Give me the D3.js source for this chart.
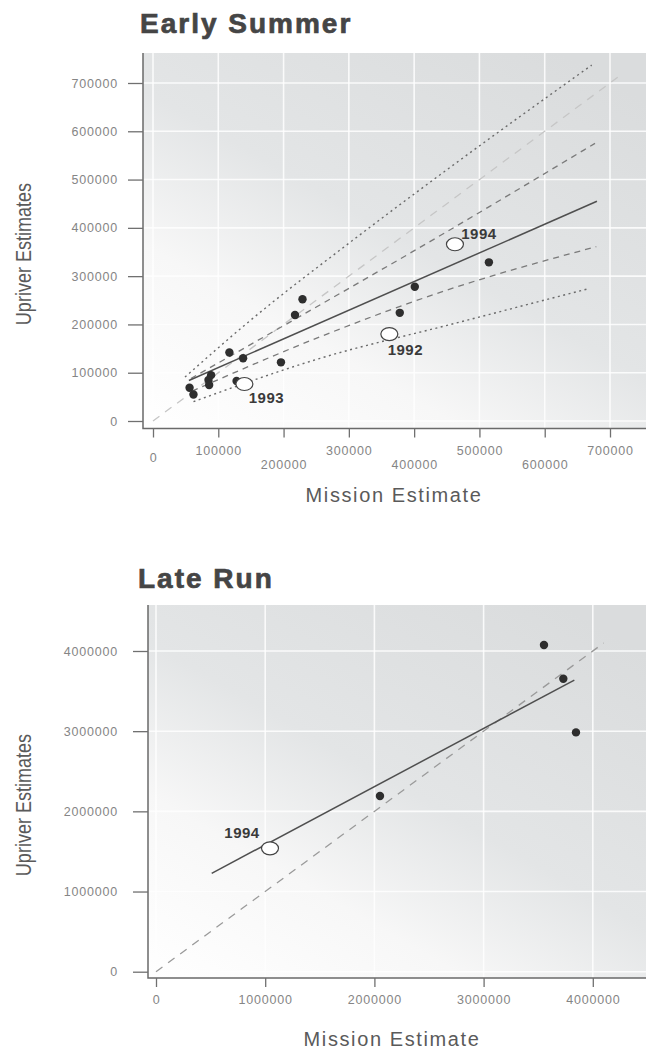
<!DOCTYPE html>
<html>
<head>
<meta charset="utf-8">
<script src="https://cdn.jsdelivr.net/npm/d3@7"></script>
<style>
  body { margin: 0; background: #fff; }
  svg { display: block; }
  .tick text { font-family: "Liberation Sans", Arial, sans-serif; font-size: 12.5px; fill: #858585; letter-spacing: 0.8px; }
  .tick line { stroke: #707070; stroke-width: 1.3; }
  .title { font-family: "Liberation Sans", Arial, sans-serif; font-weight: bold; font-size: 28px; fill: #454545; stroke: #454545; stroke-width: 0.7; letter-spacing: 2px; }
  .ytitle { font-family: "Liberation Sans", Arial, sans-serif; font-size: 22px; fill: #5a5a5a; }
  .xtitle { font-family: "Liberation Sans", Arial, sans-serif; font-size: 20px; fill: #5a5a5a; letter-spacing: 1.6px; }
  .yearlab { font-family: "Liberation Sans", Arial, sans-serif; font-weight: bold; font-size: 15px; fill: #3a3a3a; letter-spacing: 0.5px; }
</style>
</head>
<body>
<svg id="chart"></svg>
<script>
// Early Summer run
const earlyXTicks = [0, 100000, 200000, 300000, 400000, 500000, 600000, 700000];
const earlyYTicks = [0, 100000, 200000, 300000, 400000, 500000, 600000, 700000];
const earlyMission = [229000, 217500, 117000, 138000, 196000, 89000, 85000, 86000, 56000, 62000, 128000, 401000, 378000, 514500];
const earlyUpriver = [252000, 219500, 142000, 130000, 121500, 95000, 85000, 74500, 69000, 55000, 83000, 278000, 224000, 328600];
const earlyYears = ["1992", "1993", "1994"];
const earlyYearMission = [362000, 140000, 462500];
const earlyYearUpriver = [180000, 76600, 366000];
const earlyFitX = [55000, 680000];
const earlyFitY = [84000, 455000];
const earlyCiUpX = [58000, 184000, 450000, 677000];
const earlyCiUpY = [88000, 185000, 392000, 575000];
const earlyCiLoX = [60000, 256000, 450000, 679000];
const earlyCiLoY = [62000, 174500, 271000, 361000];
const earlyPiUpX = [49000, 143500, 306700, 449800, 672000];
const earlyPiUpY = [91000, 202000, 375000, 520000, 737000];
const earlyPiLoX = [62000, 256000, 460000, 669000];
const earlyPiLoY = [40000, 129800, 201400, 274700];
const earlyOneToOne = [0, 715000];

// Late run
const lateXTicks = [0, 1000000, 2000000, 3000000, 4000000];
const lateYTicks = [0, 1000000, 2000000, 3000000, 4000000];
const lateMission = [3553000, 3730000, 3846000, 2051000];
const lateUpriver = [4074000, 3653000, 2985000, 2191000];
const lateYears = ["1994"];
const lateYearMission = [1044000];
const lateYearUpriver = [1539000];
const lateFitX = [510000, 3831000];
const lateFitY = [1227000, 3637000];
const lateOneToOne = [0, 4100000];

const width = 646;
const height = 1051;

const svg = d3.select("#chart")
    .attr("width", width)
    .attr("height", height);

const defs = svg.append("defs");
const grad = defs.append("linearGradient")
    .attr("id", "bg")
    .attr("x1", "0").attr("y1", "1")
    .attr("x2", "0.8").attr("y2", "0");
grad.append("stop").attr("offset", "0").attr("stop-color", "#ffffff");
grad.append("stop").attr("offset", "0.3").attr("stop-color", "#f7f7f7");
grad.append("stop").attr("offset", "0.55").attr("stop-color", "#e3e5e6");
grad.append("stop").attr("offset", "1").attr("stop-color", "#dadcdd");

const zip = (xs, ys) => xs.map((x, i) => [x, ys[i]]);

function drawPanel(cfg) {
    const g = svg.append("g");
    const x = cfg.x, y = cfg.y;

    // panel background
    g.append("rect")
        .attr("x", cfg.left).attr("y", cfg.top)
        .attr("width", width + 20 - cfg.left)
        .attr("height", cfg.bottom - cfg.top)
        .attr("fill", "url(#bg)");

    // white grid
    g.selectAll(".vgrid").data(cfg.xTicks).join("line")
        .attr("x1", d => x(d)).attr("x2", d => x(d))
        .attr("y1", cfg.top).attr("y2", cfg.bottom)
        .attr("stroke", "#fff").attr("stroke-width", 1.6).attr("opacity", 0.85);
    g.selectAll(".hgrid").data(cfg.yTicks).join("line")
        .attr("x1", cfg.left).attr("x2", width + 20)
        .attr("y1", d => y(d)).attr("y2", d => y(d))
        .attr("stroke", "#fff").attr("stroke-width", 1.6).attr("opacity", 0.85);

    // frame (left and bottom)
    g.append("path")
        .attr("d", `M${cfg.left},${cfg.top}V${cfg.bottom}H${width + 20}`)
        .attr("fill", "none").attr("stroke", "#6a6a6a").attr("stroke-width", 1.5);

    // axes
    const yAxis = g.append("g")
        .attr("transform", `translate(${cfg.left},0)`)
        .call(d3.axisLeft(y).tickValues(cfg.yTicks).tickSize(15).tickPadding(cfg.yPad).tickFormat(d3.format("d")));
    yAxis.select(".domain").remove();

    const xAxis = g.append("g")
        .attr("transform", `translate(0,${cfg.bottom})`)
        .call(d3.axisBottom(x).tickValues(cfg.xTicks).tickSize(9).tickFormat(d3.format("d")));
    xAxis.select(".domain").remove();
    xAxis.selectAll(".tick text")
        .attr("dy", "0.35em")
        .attr("y", (d, i) => cfg.xLabelY(i));

    // titles
    g.append("text").attr("class", "title")
        .attr("x", cfg.titleX).attr("y", cfg.titleY).text(cfg.title);
    g.append("text").attr("class", "ytitle")
        .attr("transform", `translate(31,${cfg.yTitleY}) rotate(-90) scale(0.82,1)`)
        .attr("text-anchor", "middle").text("Upriver Estimates");
    g.append("text").attr("class", "xtitle")
        .attr("x", cfg.xTitleX).attr("y", cfg.xTitleY)
        .attr("text-anchor", "middle").text("Mission Estimate");

    const line = d3.line().x(d => x(d[0])).y(d => y(d[1]));
    const curve = d3.line().x(d => x(d[0])).y(d => y(d[1])).curve(d3.curveMonotoneX);

    // 1:1 line
    g.append("path")
        .attr("d", line(zip(cfg.oneToOne, cfg.oneToOne)))
        .attr("fill", "none").attr("stroke", cfg.oneColor).attr("stroke-width", 1.3)
        .attr("stroke-dasharray", "8,7");

    (cfg.bands || []).forEach(b => {
        g.append("path")
            .attr("d", curve(zip(b.xs, b.ys)))
            .attr("fill", "none").attr("stroke", b.color).attr("stroke-width", b.w)
            .attr("stroke-dasharray", b.dash);
    });

    // fitted line
    g.append("path")
        .attr("d", line(zip(cfg.fitX, cfg.fitY)))
        .attr("fill", "none").attr("stroke", "#4f4f4f").attr("stroke-width", 1.5);

    // observed points
    g.selectAll(".pt").data(zip(cfg.mission, cfg.upriver)).join("circle")
        .attr("cx", d => x(d[0])).attr("cy", d => y(d[1]))
        .attr("r", 4.2).attr("fill", "#2e2e2e");

    // labelled years
    const yrs = zip(cfg.yearMission, cfg.yearUpriver);
    g.selectAll(".yr").data(yrs).join("ellipse")
        .attr("cx", d => x(d[0])).attr("cy", d => y(d[1]))
        .attr("rx", 8.5).attr("ry", 6.5)
        .attr("fill", "#fff").attr("stroke", "#444").attr("stroke-width", 1.2);
    g.selectAll(".yrlab").data(yrs).join("text")
        .attr("class", "yearlab")
        .attr("x", (d, i) => x(d[0]) + cfg.labelOff[i][0])
        .attr("y", (d, i) => y(d[1]) + cfg.labelOff[i][1])
        .attr("dy", "0.36em").attr("text-anchor", "middle")
        .text((d, i) => cfg.years[i]);
}

drawPanel({
    title: "Early Summer", titleX: 140, titleY: 33,
    left: 143, top: 53, bottom: 428.5,
    x: d3.scaleLinear().domain([0, 700000]).range([153, 610]),
    y: d3.scaleLinear().domain([0, 700000]).range([421, 83]),
    xTicks: earlyXTicks, yTicks: earlyYTicks, yPad: 10,
    xLabelY: i => i === 0 ? 29 : (i % 2 ? 22.5 : 36.5),
    yTitleY: 254, xTitleX: 394, xTitleY: 502,
    oneToOne: earlyOneToOne, oneColor: "#c6c6c6",
    bands: [
        { xs: earlyPiUpX, ys: earlyPiUpY, color: "#6a6a6a", w: 1.4, dash: "2,3.5" },
        { xs: earlyPiLoX, ys: earlyPiLoY, color: "#6a6a6a", w: 1.4, dash: "2,3.5" },
        { xs: earlyCiUpX, ys: earlyCiUpY, color: "#7a7a7a", w: 1.3, dash: "6,5" },
        { xs: earlyCiLoX, ys: earlyCiLoY, color: "#7a7a7a", w: 1.3, dash: "6,5" }
    ],
    fitX: earlyFitX, fitY: earlyFitY,
    mission: earlyMission, upriver: earlyUpriver,
    years: earlyYears, yearMission: earlyYearMission, yearUpriver: earlyYearUpriver,
    labelOff: [[16, 16], [22, 14], [24, -11]]
});

drawPanel({
    title: "Late Run", titleX: 138, titleY: 588,
    left: 148, top: 605, bottom: 978,
    x: d3.scaleLinear().domain([0, 4000000]).range([156, 592.8]),
    y: d3.scaleLinear().domain([0, 4000000]).range([971.7, 651]),
    xTicks: lateXTicks, yTicks: lateYTicks, yPad: 15,
    xLabelY: i => 22,
    yTitleY: 805, xTitleX: 392, xTitleY: 1046,
    oneToOne: lateOneToOne, oneColor: "#9a9a9a",
    bands: [],
    fitX: lateFitX, fitY: lateFitY,
    mission: lateMission, upriver: lateUpriver,
    years: lateYears, yearMission: lateYearMission, yearUpriver: lateYearUpriver,
    labelOff: [[-28, -16]]
});
</script>
</body>
</html>
